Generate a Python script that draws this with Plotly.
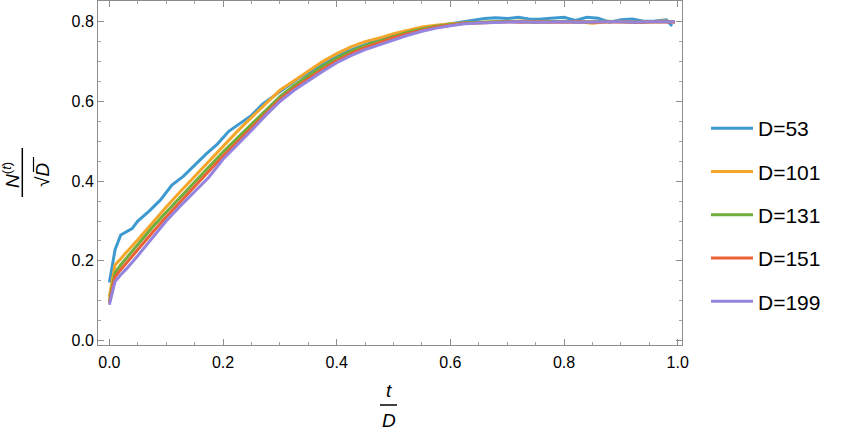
import plotly.graph_objects as go

# t/D sample points
t_53 = [0, 0.01, 0.02, 0.03, 0.04, 0.05, 0.07, 0.09, 0.11, 0.13, 0.15, 0.17, 0.19,
        0.21, 0.23, 0.25, 0.27, 0.29, 0.31, 0.33, 0.36, 0.39, 0.42, 0.45, 0.48,
        0.51, 0.54, 0.57, 0.6, 0.62, 0.64, 0.66, 0.68, 0.7, 0.72, 0.74, 0.76,
        0.78, 0.8, 0.82, 0.84, 0.86, 0.88, 0.9, 0.92, 0.94, 0.96, 0.98, 0.99]
n_53 = [0.146, 0.228, 0.265, 0.272, 0.281, 0.3, 0.325, 0.353, 0.39, 0.412, 0.44,
        0.468, 0.493, 0.525, 0.545, 0.565, 0.594, 0.615, 0.636, 0.655, 0.681,
        0.705, 0.726, 0.743, 0.758, 0.771, 0.781, 0.788, 0.795, 0.798, 0.803,
        0.808, 0.81, 0.808, 0.811, 0.806, 0.807, 0.809, 0.811, 0.803, 0.811,
        0.809, 0.799, 0.805, 0.807, 0.801, 0.802, 0.805, 0.789]

t_common = [0, 0.01, 0.02, 0.03, 0.05, 0.075, 0.1, 0.125, 0.15, 0.175, 0.2, 0.225,
            0.25, 0.275, 0.3, 0.325, 0.35, 0.375, 0.4, 0.425, 0.45, 0.475, 0.5,
            0.525, 0.55, 0.575, 0.6, 0.625, 0.65, 0.675, 0.7, 0.725, 0.75, 0.775,
            0.8, 0.825, 0.85, 0.875, 0.9, 0.925, 0.95, 0.975, 0.995]
n_101 = [0.11, 0.19, 0.205, 0.222, 0.253, 0.295, 0.335, 0.374, 0.412, 0.45, 0.486,
         0.525, 0.56, 0.595, 0.628, 0.652, 0.675, 0.7, 0.72, 0.737, 0.75, 0.759,
         0.77, 0.778, 0.787, 0.791, 0.795, 0.797, 0.799, 0.8, 0.8, 0.802, 0.8,
         0.801, 0.799, 0.8, 0.796, 0.8, 0.801, 0.798, 0.8, 0.802, 0.8]
n_131 = [0.1, 0.17, 0.19, 0.207, 0.24, 0.283, 0.322, 0.36, 0.398, 0.436, 0.473,
         0.508, 0.543, 0.578, 0.612, 0.64, 0.664, 0.688, 0.709, 0.726, 0.74, 0.752,
         0.764, 0.774, 0.782, 0.789, 0.793, 0.797, 0.798, 0.799, 0.801, 0.8, 0.799,
         0.8, 0.801, 0.799, 0.8, 0.801, 0.8, 0.799, 0.8, 0.801, 0.8]
n_151 = [0.095, 0.16, 0.178, 0.195, 0.227, 0.27, 0.31, 0.348, 0.386, 0.423, 0.463,
         0.498, 0.534, 0.57, 0.605, 0.633, 0.657, 0.681, 0.702, 0.72, 0.735, 0.747,
         0.76, 0.77, 0.779, 0.787, 0.791, 0.796, 0.797, 0.799, 0.8, 0.799, 0.8,
         0.799, 0.8, 0.8, 0.799, 0.8, 0.8, 0.799, 0.8, 0.8, 0.799]
n_199 = [0.09, 0.148, 0.165, 0.18, 0.213, 0.258, 0.3, 0.338, 0.374, 0.41, 0.455,
         0.49, 0.527, 0.565, 0.6, 0.628, 0.652, 0.675, 0.697, 0.715, 0.73, 0.742,
         0.755, 0.766, 0.776, 0.784, 0.79, 0.795, 0.797, 0.798, 0.799, 0.8, 0.799,
         0.8, 0.8, 0.799, 0.8, 0.8, 0.8, 0.799, 0.8, 0.8, 0.8]

series_names = ["D=53", "D=101", "D=131", "D=151", "D=199"]
series_t = [t_53, t_common, t_common, t_common, t_common]
series_n = [n_53, n_101, n_131, n_151, n_199]
colors = ["#3D9AD1", "#F5A52A", "#6EAD3A", "#EC6235", "#9484DE"]

W, H = 847, 432
L, R, T, B = 98, 682, 1, 345   # plot area in pixels


def px(X):
    return (X - L) / (R - L)


def py(Y):
    return (B - Y) / (B - T)


fig = go.Figure()
for name, tt, nn, c in zip(series_names, series_t, series_n, colors):
    fig.add_trace(go.Scatter(x=tt, y=nn, mode="lines", name=name, legendgroup=name,
                             line=dict(color=c, width=3)))

axis_common = dict(
    showgrid=False, zeroline=False, showline=True, linecolor="#8c8c8c", linewidth=1,
    mirror="allticks", ticks="inside", ticklen=6, tickcolor="#8c8c8c", tickwidth=1,
    tickformat=".1f", tickfont=dict(family="Arial, Liberation Sans", size=16, color="black"),
    minor=dict(ticks="inside", ticklen=3, dtick=0.05, tickcolor="#a0a0a0"),
    automargin=False,
)
fig.update_xaxes(range=[-0.02, 1.0075], dtick=0.2, tick0=0, ticklabelstandoff=3, **axis_common)
fig.update_yaxes(range=[-0.011, 0.852], dtick=0.2, tick0=0, **axis_common)

# axis labels drawn as fractions
lab_font = dict(family="Arial, Liberation Sans", size=19, color="black")
ann = [
    dict(x=px(389), y=py(390), text="<i>t</i>"),
    dict(x=px(389), y=py(420), text="<i>D</i>"),
    dict(x=px(11), y=py(175), text="<i>N</i><sup>(<i>t</i>)</sup>", textangle=-90),
    dict(x=px(42), y=py(175), text="√<i>D</i>", textangle=-90),
]
for a in ann:
    fig.add_annotation(xref="paper", yref="paper", showarrow=False,
                       xanchor="center", yanchor="middle", font=lab_font, **a)
fig.add_shape(type="line", xref="paper", yref="paper", x0=px(380), x1=px(397),
              y0=py(405), y1=py(405), line=dict(color="black", width=1.5))
fig.add_shape(type="line", xref="paper", yref="paper", x0=px(22.3), x1=px(22.3),
              y0=py(148), y1=py(197), line=dict(color="black", width=1.5))
fig.add_shape(type="line", xref="paper", yref="paper", x0=px(33.5), x1=px(33.5),
              y0=py(157), y1=py(172), line=dict(color="black", width=1.2))

fig.update_layout(
    width=W, height=H,
    margin=dict(l=L, r=W - R, t=T, b=H - B),
    paper_bgcolor="white", plot_bgcolor="white",
    legend=dict(x=px(706), y=py(108), xanchor="left", yanchor="top",
                font=dict(family="Arial, Liberation Sans", size=21, color="black"),
                itemwidth=42, tracegroupgap=13, bgcolor="rgba(0,0,0,0)"),
)
fig.write_html("out.html", config={"displayModeBar": False},
               post_script="document.body.style.margin='0';")
